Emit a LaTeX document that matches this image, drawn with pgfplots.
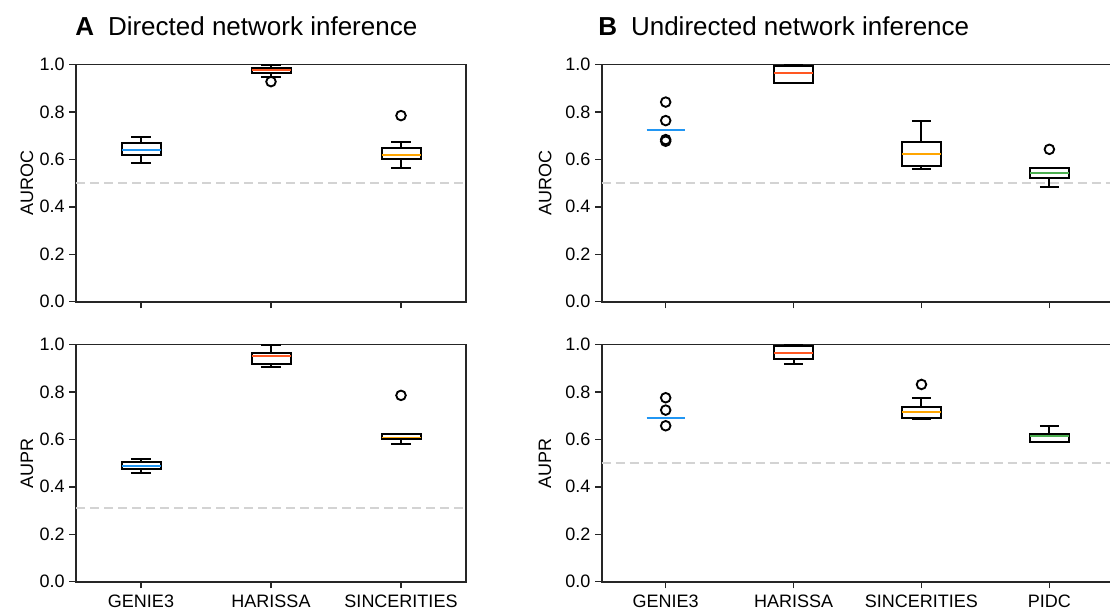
\documentclass[border=0pt]{standalone}
\usepackage{fontspec}
\setmainfont{Liberation Sans}
\usepackage{pgfplots}
\pgfplotsset{compat=1.18}
\usepgfplotslibrary{statistics}
\definecolor{cBlue}{HTML}{2196F3}
\definecolor{cRed}{HTML}{FF5722}
\definecolor{cOrange}{HTML}{FFA500}
\definecolor{cGreen}{HTML}{4CAF50}
\definecolor{spine}{HTML}{262626}
\definecolor{refgray}{HTML}{D3D3D3}
\pgfplotsset{
  panel/.style={
    scale only axis, height=178.05pt,
    ymin=0, ymax=1, ytick={0,0.2,0.4,0.6,0.8,1.0},
    tick align=outside, tick pos=left,
    major tick length=5pt,
    axis line style={spine, line width=1.2pt},
    every tick/.style={spine, line width=1.1pt},
    /pgf/number format/assume math mode=true,
    yticklabel style={/pgf/number format/.cd, fixed, fixed zerofill, precision=1},
    xticklabel style={yshift=-1.5pt},
    tick label style={font=\fontsize{13.5pt}{16pt}\selectfont},
    every axis y label/.style={at={(axis description cs:0,0.5)}, rotate=90, anchor=center,
      font=\fontsize{13.5pt}{16pt}\selectfont},
  },
  bp/.style n args={7}{black, solid, line width=1.5pt, mark=o, mark size=3.6pt,
    mark options={solid, black, line width=1.4pt, fill=none},
    boxplot/draw direction=y,
    boxplot prepared={draw position=#1, lower whisker=#2, lower quartile=#3, median=#4,
      upper quartile=#5, upper whisker=#6, box extend=0.3, whisker extend=0.15},
    boxplot/every box/.style={draw=black, line width=1.5pt},
    boxplot/every whisker/.style={draw=black, line width=1.5pt},
    boxplot/every median/.style={draw=#7, line width=1.3pt}},
  collapsed/.style={boxplot/every box/.style={draw=none},
    boxplot/every whisker/.style={draw=none},
    boxplot/every median/.append style={line width=1.6pt}},
  refline/.style={refgray, line width=1.5pt, dash pattern=on 6.75pt off 3.75pt, mark=none},
}
\begin{document}
\begin{tikzpicture}
\useasboundingbox (0,0) rectangle (832.5pt,457.5pt);
\node[anchor=base west, inner sep=0pt, font=\fontsize{19.5pt}{23pt}\selectfont] at (56.25pt,430.5pt) {\textbf{A}\hspace{10.5pt}Directed network inference};
\node[anchor=base west, inner sep=0pt, font=\fontsize{19.5pt}{23pt}\selectfont] at (448.5pt,430.5pt) {\textbf{B}\hspace{10.5pt}Undirected network inference};

% A top: AUROC directed
\begin{axis}[panel, at={(57pt,231.2pt)}, anchor=south west, width=292.5pt,
  xmin=0.5, xmax=3.5, xtick={1,2,3}, xticklabels={},
  ylabel={AUROC}, every axis y label/.append style={yshift=36.75pt}]
\addplot[refline] coordinates {(0.5,0.5) (3.5,0.5)};
\addplot[bp={1}{0.583}{0.618}{0.638}{0.670}{0.692}{cBlue}] coordinates {};
\addplot[bp={2}{0.948}{0.965}{0.975}{0.986}{0.998}{cRed}] coordinates {(2,0.927)};
\addplot[bp={3}{0.565}{0.601}{0.619}{0.647}{0.674}{cOrange}] coordinates {(3,0.784)};
\end{axis}

% A bottom: AUPR directed
\begin{axis}[panel, at={(57pt,21.2pt)}, anchor=south west, width=292.5pt,
  xmin=0.5, xmax=3.5, xtick={1,2,3}, xticklabels={GENIE3,HARISSA,SINCERITIES},
  ylabel={AUPR}, every axis y label/.append style={yshift=36.75pt}]
\addplot[refline] coordinates {(0.5,0.31) (3.5,0.31)};
\addplot[bp={1}{0.459}{0.475}{0.486}{0.506}{0.517}{cBlue}] coordinates {};
\addplot[bp={2}{0.906}{0.917}{0.951}{0.963}{0.999}{cRed}] coordinates {};
\addplot[bp={3}{0.581}{0.601}{0.608}{0.621}{0.624}{cOrange}] coordinates {(3,0.785)};
\end{axis}

% B top: AUROC undirected
\begin{axis}[panel, at={(451.3pt,231.2pt)}, anchor=south west, width=383.7pt,
  xmin=0.5, xmax=4.5, xtick={1,2,3,4}, xticklabels={},
  ylabel={AUROC}, every axis y label/.append style={yshift=42.5pt}]
\addplot[refline] coordinates {(0.5,0.5) (4.5,0.5)};
\addplot[bp={1}{0.722}{0.722}{0.722}{0.722}{0.722}{cBlue}, collapsed] coordinates {(1,0.841) (1,0.763) (1,0.683) (1,0.676)};
\addplot[bp={2}{0.921}{0.921}{0.962}{0.993}{0.999}{cRed}] coordinates {};
\addplot[bp={3}{0.560}{0.570}{0.621}{0.671}{0.763}{cOrange}] coordinates {};
\addplot[bp={4}{0.482}{0.521}{0.542}{0.562}{0.563}{cGreen}] coordinates {(4,0.642)};
\end{axis}

% B bottom: AUPR undirected
\begin{axis}[panel, at={(451.3pt,21.2pt)}, anchor=south west, width=383.7pt,
  xmin=0.5, xmax=4.5, xtick={1,2,3,4}, xticklabels={GENIE3,HARISSA,SINCERITIES,PIDC},
  ylabel={AUPR}, every axis y label/.append style={yshift=42.5pt}]
\addplot[refline] coordinates {(0.5,0.5) (4.5,0.5)};
\addplot[bp={1}{0.691}{0.691}{0.691}{0.691}{0.691}{cBlue}, collapsed] coordinates {(1,0.775) (1,0.723) (1,0.657)};
\addplot[bp={2}{0.919}{0.937}{0.963}{0.992}{0.999}{cRed}] coordinates {};
\addplot[bp={3}{0.685}{0.690}{0.716}{0.737}{0.772}{cOrange}] coordinates {(3,0.831)};
\addplot[bp={4}{0.590}{0.590}{0.614}{0.624}{0.657}{cGreen}] coordinates {};
\end{axis}
\end{tikzpicture}
\end{document}
